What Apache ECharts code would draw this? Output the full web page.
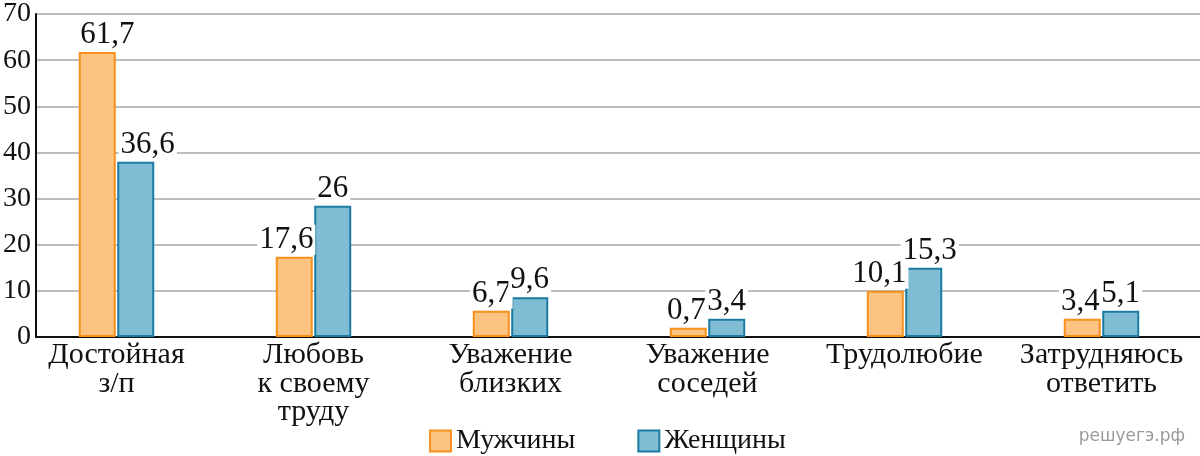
<!DOCTYPE html>
<html>
<head>
<meta charset="utf-8">
<script src="https://cdn.jsdelivr.net/npm/echarts@6/dist/echarts.min.js"></script>
<style>
html,body{margin:0;padding:0;background:#fff;}
#chart{width:1200px;height:456px;}
</style>
</head>
<body>
<div id="chart"></div>
<script>
const categories = ['Достойная\nз/п', 'Любовь\nк своему\nтруду', 'Уважение\nблизких', 'Уважение\nсоседей', 'Трудолюбие', 'Затрудняюсь\nответить'];
const seriesNames = ['Мужчины', 'Женщины'];
const menValues = [61.0, 17.2, 5.6, 2.0, 9.9, 3.9];
const womenValues = [37.5, 28.1, 8.5, 3.9, 14.8, 5.6];
const menLabels = ['61,7', '17,6', '6,7', '0,7', '10,1', '3,4'];
const womenLabels = ['36,6', '26', '9,6', '3,4', '15,3', '5,1'];
const yTicks = [0, 10, 20, 30, 40, 50, 60, 70];

// label nudges (style only)
const menNudge = [10, -8, 0, -2, -6, -2];
const womenNudge = [12, 0, 0, 0, 6, 0];

const serif = '"Liberation Serif", "Times New Roman", serif';
const menStyle = {color: '#fdc381', borderColor: '#f5911c', borderWidth: 2};
const womenStyle = {color: '#80bdd4', borderColor: '#1b7ca2', borderWidth: 2};

function build(values, labels, nudge) {
  return values.map((v, i) => ({value: v, label: {offset: [nudge[i], 0]}}));
}
function labelCfg(labels) {
  return {
    show: true, position: 'top', distance: 2,
    formatter: p => labels[p.dataIndex],
    fontFamily: serif, fontSize: 31, lineHeight: 30, color: '#111',
    backgroundColor: '#fff', padding: [0, 2, 0, 2]
  };
}

const chart = echarts.init(document.getElementById('chart'), null, {renderer: 'canvas'});
chart.setOption({
  animation: false,
  backgroundColor: '#fff',
  grid: [
    {left: 36, top: 10, right: 0, height: 327},
    {left: 18, top: 10, width: 1186, height: 327}
  ],
  xAxis: [
    {type: 'category', gridIndex: 0, data: categories,
     axisLine: {show: true, lineStyle: {color: '#111', width: 2}},
     axisTick: {show: false}, axisLabel: {show: false}},
    {type: 'category', gridIndex: 1, data: categories,
     axisLine: {show: false}, axisTick: {show: false},
     axisLabel: {show: true, interval: 0, margin: 4, fontFamily: serif, fontSize: 30, lineHeight: 28.5, color: '#111'}}
  ],
  yAxis: [
    {type: 'value', gridIndex: 0, min: 0, max: 70, interval: 10,
     axisLine: {show: true, lineStyle: {color: '#111', width: 2}},
     axisTick: {show: false},
     splitLine: {show: true, lineStyle: {color: '#a8a8a8', width: 1.5}},
     axisLabel: {margin: 5, fontFamily: serif, fontSize: 28, color: '#111',
       formatter: v => yTicks.includes(v) ? String(v) : ''}},
    {type: 'value', gridIndex: 1, min: 0, max: 70, interval: 10, show: false,
     splitLine: {show: false}}
  ],
  legend: {
    left: 424, top: 422, itemWidth: 21, itemHeight: 21, itemGap: 62,
    icon: 'rect',
    textStyle: {fontFamily: serif, fontSize: 28, color: '#111', padding: [0, 0, 0, 0]},
    data: [
      {name: seriesNames[0], itemStyle: menStyle},
      {name: seriesNames[1], itemStyle: womenStyle}
    ]
  },
  graphic: [{
    type: 'text', right: 15, top: 428,
    style: {text: 'решуегэ.рф', font: '17px "DejaVu Sans", sans-serif', fill: '#9a9a9a'}
  }],
  series: [
    {name: seriesNames[0], type: 'bar', xAxisIndex: 1, yAxisIndex: 1,
     barWidth: 37, barGap: '4%', itemStyle: menStyle,
     label: labelCfg(menLabels), data: build(menValues, menLabels, menNudge)},
    {name: seriesNames[1], type: 'bar', xAxisIndex: 1, yAxisIndex: 1,
     barWidth: 37, barGap: '4%', itemStyle: womenStyle,
     label: labelCfg(womenLabels), data: build(womenValues, womenLabels, womenNudge)}
  ]
});
</script>
</body>
</html>
